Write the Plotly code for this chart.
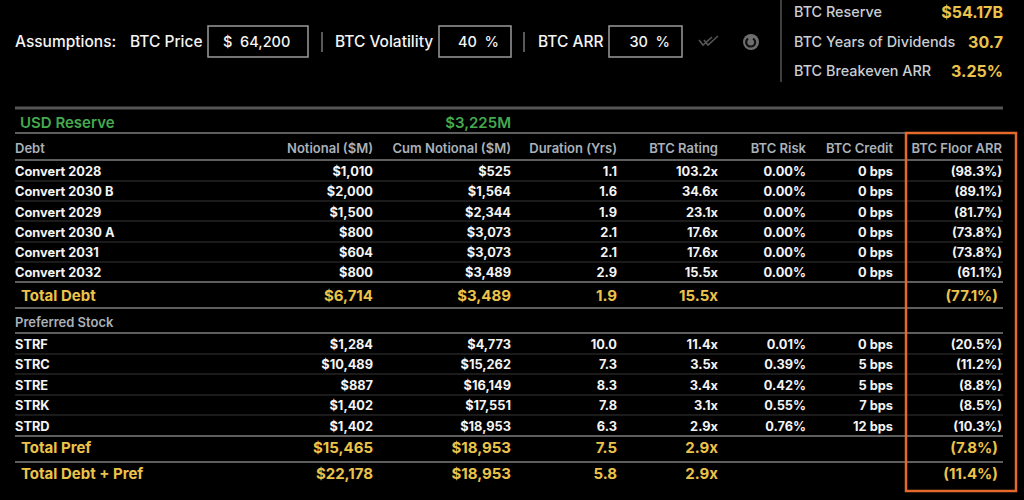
import plotly.graph_objects as go

# ---- assumptions strip
assumption_labels = ["BTC Price", "BTC Volatility", "BTC ARR"]
btc_price = 64200
btc_volatility = 40
btc_arr = 30

summary_labels = ["BTC Reserve", "BTC Years of Dividends", "BTC Breakeven ARR"]
summary_values = ["$54.17B", "30.7", "3.25%"]

usd_reserve = 3225  # $M

columns = ["Notional ($M)", "Cum Notional ($M)", "Duration (Yrs)", "BTC Rating",
           "BTC Risk", "BTC Credit", "BTC Floor ARR"]

# ---- debt
debt_names = ["Convert 2028", "Convert 2030 B", "Convert 2029", "Convert 2030 A",
              "Convert 2031", "Convert 2032"]
debt_notional = [1010, 2000, 1500, 800, 604, 800]
debt_cum = [525, 1564, 2344, 3073, 3073, 3489]
debt_duration = [1.1, 1.6, 1.9, 2.1, 2.1, 2.9]
debt_rating = [103.2, 34.6, 23.1, 17.6, 17.6, 15.5]
debt_risk = [0.00, 0.00, 0.00, 0.00, 0.00, 0.00]
debt_credit = [0, 0, 0, 0, 0, 0]
debt_floor = [-98.3, -89.1, -81.7, -73.8, -73.8, -61.1]

# ---- preferred stock
pref_names = ["STRF", "STRC", "STRE", "STRK", "STRD"]
pref_notional = [1284, 10489, 887, 1402, 1402]
pref_cum = [4773, 15262, 16149, 17551, 18953]
pref_duration = [10.0, 7.3, 8.3, 7.8, 6.3]
pref_rating = [11.4, 3.5, 3.4, 3.1, 2.9]
pref_risk = [0.01, 0.39, 0.42, 0.55, 0.76]
pref_credit = [0, 5, 5, 7, 12]
pref_floor = [-20.5, -11.2, -8.8, -8.5, -10.3]

# ---- totals
total_names = ["Total Debt", "Total Pref", "Total Debt + Pref"]
total_notional = [6714, 15465, 22178]
total_cum = [3489, 18953, 18953]
total_duration = [1.9, 7.5, 5.8]
total_rating = [15.5, 2.9, 2.9]
total_floor = [-77.1, -7.8, -11.4]

WHITE = "#f4f4f4"
GREY = "#aab1b9"
LIGHT = "#c9ced3"
GOLD = "#ecc34a"
GREEN = "#46a94e"
ORANGE = "#e3692d"
FONT = "Inter, Roboto, sans-serif"

# layout grid (canvas pixels)
COL_X = [373, 511, 617, 718, 806, 893, 1002]
TOTAL_FLOOR_X = 998
LEFT_X = 15
DEBT_Y = [171, 191, 212, 232, 252, 272]
PREF_Y = [344, 364, 385, 405, 426]
TOTAL_Y = [296, 448, 474]
HEADER_Y = 148
USD_Y = 123
PREF_HDR_Y = 322
TOP_Y = 42
SUMMARY_Y = [12, 42, 71]
TEXT_DY = 1.5  # baseline nudge so glyphs sit centred on the row


def money(v):
    return f"${v:,}"


def dur(v):
    return f"{v:.1f}"


def rating(v):
    return f"{v:.1f}x"


def risk(v):
    return f"{v:.2f}%"


def credit(v):
    return f"{v} bps"


def floor(v):
    return f"({abs(v):.1f}%)"


fig = go.Figure()


def add_text(x, y, text, pos="middle left", size=13, color=WHITE, weight=600):
    fig.add_trace(go.Scatter(
        x=x, y=[v + TEXT_DY for v in y], text=text, mode="text", textposition=pos,
        textfont=dict(family=FONT, size=size, color=color, weight=weight),
        hoverinfo="skip", showlegend=False, cliponaxis=False,
    ))


# top strip
add_text([LEFT_X], [TOP_Y], ["Assumptions:"], "middle right", 15.5, WHITE, 500)
add_text([130, 335, 538], [TOP_Y] * 3, assumption_labels, "middle right", 15.5, WHITE, 500)
add_text([223], [TOP_Y], [f"$  {btc_price:,}"], "middle right", 14.5, WHITE, 500)
add_text([499, 670], [TOP_Y] * 2, [f"{btc_volatility}  %", f"{btc_arr}  %"], "middle left", 14.5, WHITE, 500)
add_text([794] * 3, SUMMARY_Y, summary_labels, "middle right", 14.4, LIGHT, 500)
add_text([1003] * 3, SUMMARY_Y, summary_values, "middle left", 16, GOLD, 700)

# usd reserve
add_text([20], [USD_Y], ["USD Reserve"], "middle right", 15, GREEN, 600)
add_text([COL_X[1]], [USD_Y], [f"${usd_reserve:,}M"], "middle left", 15, GREEN, 600)

# header
add_text([LEFT_X], [HEADER_Y], ["Debt"], "middle right", 13, GREY, 600)
add_text(COL_X, [HEADER_Y] * len(columns), columns, "middle left", 13, GREY, 600)
add_text([LEFT_X], [PREF_HDR_Y], ["Preferred Stock"], "middle right", 13, GREY, 600)

# body rows
fmts = [money, money, dur, rating, risk, credit, floor]
for names, ys, series in [
    (debt_names, DEBT_Y, [debt_notional, debt_cum, debt_duration, debt_rating,
                          debt_risk, debt_credit, debt_floor]),
    (pref_names, PREF_Y, [pref_notional, pref_cum, pref_duration, pref_rating,
                          pref_risk, pref_credit, pref_floor]),
]:
    add_text([LEFT_X] * len(names), ys, names, "middle right", 12.8, WHITE, 700)
    for cx, f, vals in zip(COL_X, fmts, series):
        add_text([cx] * len(vals), ys, [f(v) for v in vals], "middle left", 12.8, WHITE, 700)

# totals
add_text([21] * 3, TOTAL_Y, total_names, "middle right", 15, GOLD, 650)
for cx, f, vals in zip(COL_X[:4], fmts[:4], [total_notional, total_cum, total_duration, total_rating]):
    add_text([cx] * 3, TOTAL_Y, [f(v) for v in vals], "middle left", 15, GOLD, 650)
add_text([TOTAL_FLOOR_X] * 3, TOTAL_Y, [floor(v) for v in total_floor], "middle left", 15, GOLD, 650)

# rules
shapes = []
major = [133, 160, 282, 308, 333, 436, 462]
minor = [181, 201, 221, 242, 262, 354, 374, 395, 415]
shapes.append(dict(type="line", x0=15, x1=1003, y0=108, y1=108, line=dict(color="#555", width=3)))
for y in major:
    shapes.append(dict(type="line", x0=15, x1=1003, y0=y, y1=y, line=dict(color="#5e5e5e", width=2)))
for y in minor:
    shapes.append(dict(type="line", x0=15, x1=1003, y0=y, y1=y, line=dict(color="#363636", width=1)))

# input boxes + separators
for x0, x1 in [(208, 308), (439, 511), (609, 682)]:
    shapes.append(dict(type="rect", x0=x0, x1=x1, y0=26, y1=57, line=dict(color="#9a9a9a", width=1.5)))
for x in [322, 524]:
    shapes.append(dict(type="line", x0=x, x1=x, y0=32, y1=52, line=dict(color="#777", width=1.5)))
shapes.append(dict(type="line", x0=781, x1=781, y0=0, y1=82, line=dict(color="#555", width=1.5)))

# icons
shapes.append(dict(type="path", path="M 699 40 L 703 45 L 712 37 M 704 40 L 708 45 L 718 36",
                   line=dict(color="#555", width=1.6)))
shapes.append(dict(type="circle", x0=743, x1=759, y0=34, y1=50, fillcolor="#6e6e6e", line=dict(width=0)))
shapes.append(dict(type="path", path="M 748 38.5 C 744 42 747 47 751 46.5 C 755 46.5 757 41 753 38.5",
                   line=dict(color="#111", width=2)))

# highlight
shapes.append(dict(type="rect", x0=906, x1=1016, y0=133, y1=491, line=dict(color=ORANGE, width=2.5)))

fig.update_layout(
    width=1024, height=500,
    margin=dict(l=0, r=0, t=0, b=0),
    paper_bgcolor="#000", plot_bgcolor="#000",
    xaxis=dict(range=[0, 1024], visible=False, fixedrange=True),
    yaxis=dict(range=[500, 0], visible=False, fixedrange=True),
    shapes=shapes,
)

fig.write_html(
    "out.html",
    config={"displayModeBar": False},
    post_script="document.body.style.margin='0';document.body.style.background='#000';",
)
